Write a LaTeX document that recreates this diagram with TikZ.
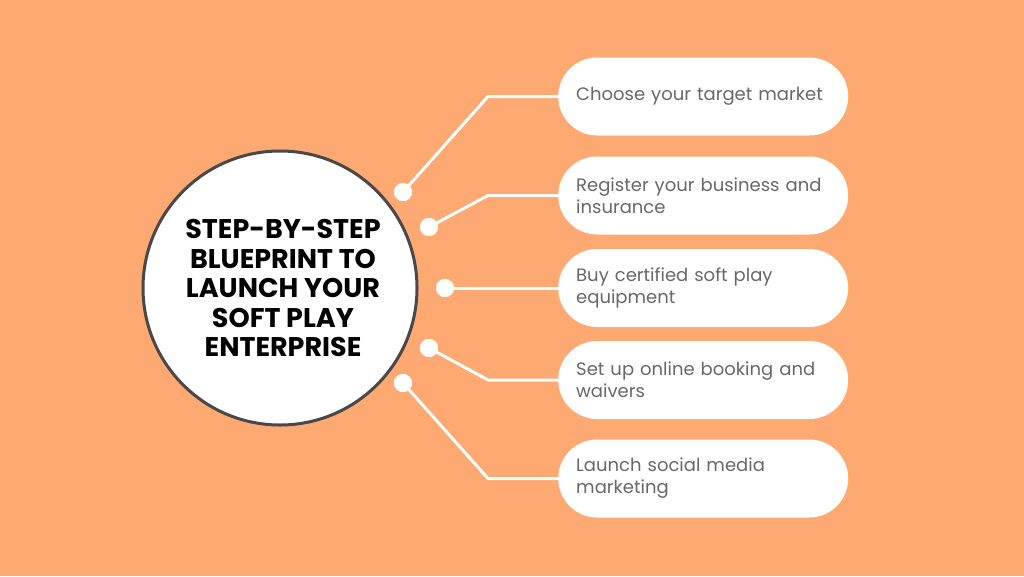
\documentclass[tikz,border=0pt]{standalone}
\usepackage{fontspec}
\setmainfont{Poppins}
\usetikzlibrary{positioning}

\definecolor{bgorange}{RGB}{254,168,114}
\definecolor{ringgray}{RGB}{72,72,72}
\definecolor{stepgray}{RGB}{104,104,104}

\begin{document}
\hyphenpenalty=10000
\begin{tikzpicture}[
  x=1pt, y=-1pt,
  every node/.style={font=\fontsize{18}{22}\selectfont},
  hub/.style={
    circle,
    minimum size=274pt,
    draw=ringgray,
    line width=3pt,
    fill=white
  },
  headline/.style={
    align=center,
    inner sep=0pt,
    font=\fontsize{27}{29.5}\selectfont\bfseries
  },
  pill/.style={
    rectangle,
    rounded corners=39pt,
    minimum width=290pt,
    minimum height=78pt,
    text width=254pt,
    inner xsep=18pt,
    align=left,
    fill=white,
    text=stepgray,
    anchor=west
  },
  link/.style={draw=white, line width=3pt},
  knob/.style={circle, fill=white, minimum size=18pt, inner sep=0pt}
]
  \fill[bgorange] (0,0) rectangle (1024,576);
  \useasboundingbox (0,0) rectangle (1024,576);

  \node[hub] (hub) at (280,288) {};
  \node[headline] (title) at (283,288) {STEP-BY-STEP\\BLUEPRINT TO\\LAUNCH YOUR\\SOFT PLAY\\ENTERPRISE};

  % steps on the right
  \node[pill] (market) at (558,96.5) {Choose your target market};
  \node[pill] (register) at (558,195.5) {Register your business and insurance};
  \node[pill] (equip) at (558,288) {Buy certified soft play equipment};
  \node[pill] (booking) at (558,380) {Set up online booking and waivers};
  \node[pill] (social) at (558,478.5) {Launch social media marketing};

  % knobs on the ring
  \node[knob] (k1) at (403,192) {};
  \node[knob] (k2) at (429,227) {};
  \node[knob] (k3) at (445,288) {};
  \node[knob] (k4) at (429,348) {};
  \node[knob] (k5) at (403,383) {};

  \draw[link] (k1.center) -- (488,96.5) -- (market.west);
  \draw[link] (k2.center) -- (488,195.5) -- (register.west);
  \draw[link] (k3.center) -- (equip.west);
  \draw[link] (k4.center) -- (488,380) -- (booking.west);
  \draw[link] (k5.center) -- (488,478.5) -- (social.west);
  \node[knob] at (k1) {};
  \node[knob] at (k2) {};
  \node[knob] at (k3) {};
  \node[knob] at (k4) {};
  \node[knob] at (k5) {};
\end{tikzpicture}
\end{document}
